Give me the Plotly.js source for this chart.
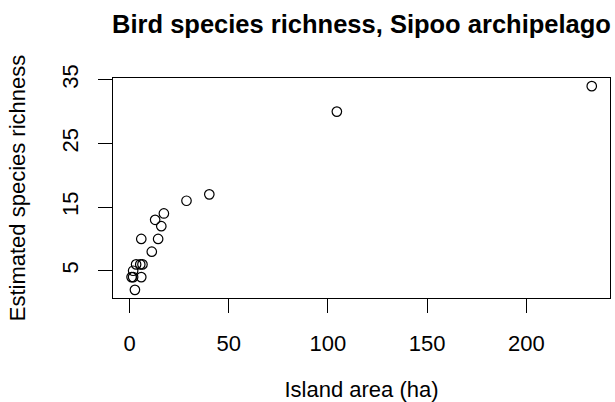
<!DOCTYPE html>
<html>
<head>
<meta charset="utf-8">
<script src="https://cdn.plot.ly/plotly-3.0.1.min.js"></script>
<style>html,body{margin:0;padding:0;background:#fff;}#chart{width:615px;height:402px;}</style>
</head>
<body>
<div id="chart"></div>
<script>
// Island area (ha)
var area = [233, 104.5, 40.2, 28.7, 17.3, 12.9, 16.0, 5.9, 14.4, 11.2, 3.3, 5.4, 6.5, 1.8, 1.0, 1.8, 5.9, 2.7];
// Estimated species richness
var richness = [34, 30, 17, 16, 14, 13, 12, 10, 10, 8, 6, 6, 6, 5, 4, 4, 4, 2];
var xTicks = [0, 50, 100, 150, 200];
var yTicks = [5, 15, 25, 35];

var font = "Liberation Sans, Arial, Helvetica, sans-serif";

var trace = {
  x: area,
  y: richness,
  type: "scatter",
  mode: "markers",
  marker: {symbol: "circle-open", size: 9.5, color: "#000", line: {width: 1.2, color: "#000"}},
  hoverinfo: "x+y"
};

var layout = {
  width: 615, height: 402,
  margin: {l: 113, r: 4.5, t: 77.5, b: 104, pad: 0},
  paper_bgcolor: "#fff", plot_bgcolor: "#fff",
  font: {family: font, size: 22, color: "#000"},
  showlegend: false,
  title: {
    text: "<b>Bird species richness, Sipoo archipelago</b>",
    font: {family: font, size: 25.5, color: "#000"},
    x: 0.5, xref: "paper", xanchor: "center",
    y: 0.939, yref: "container", yanchor: "middle"
  },
  xaxis: {
    range: [-8.35, 242.2], autorange: false,
    tickmode: "array", tickvals: xTicks, ticktext: xTicks.map(String),
    ticks: "outside", ticklen: 14, tickwidth: 1, tickcolor: "#000",
    showline: true, linecolor: "#000", linewidth: 1, mirror: true,
    showgrid: false, zeroline: false,
    ticklabelstandoff: 12,
    tickfont: {family: font, size: 22, color: "#000"},
    title: {text: "Island area (ha)", font: {family: font, size: 22, color: "#000"}, standoff: 36}
  },
  yaxis: {
    range: [0.72, 35.28], autorange: false,
    tickmode: "array", tickvals: yTicks, ticktext: yTicks.map(String),
    ticks: "outside", ticklen: 14, tickwidth: 1, tickcolor: "#000",
    showline: true, linecolor: "#000", linewidth: 1, mirror: true,
    showgrid: false, zeroline: false,
    tickangle: -90,
    ticklabelstandoff: 11,
    tickfont: {family: font, size: 22, color: "#000"},
    title: {text: "Estimated species richness", font: {family: font, size: 22, color: "#000"}, standoff: 26}
  }
};

Plotly.newPlot("chart", [trace], layout, {displayModeBar: false, staticPlot: true});
</script>
</body>
</html>
